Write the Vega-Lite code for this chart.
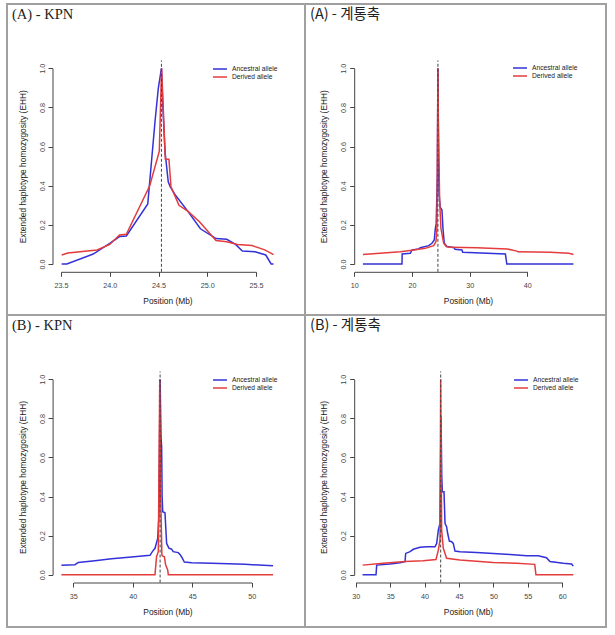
{
  "$schema": "https://vega.github.io/schema/vega-lite/v6.json",
  "background": "white",
  "padding": {"left": 6, "top": 3, "right": 0, "bottom": 0},
  "spacing": 0,
  "bounds": "flush",
  "columns": 2,
  "datasets": {
    "a_kpn": [
      {"allele": "Ancestral allele", "pos": 23.507, "ehh": 0},
      {"allele": "Ancestral allele", "pos": 23.56, "ehh": 0},
      {"allele": "Ancestral allele", "pos": 23.83, "ehh": 0.051},
      {"allele": "Ancestral allele", "pos": 24.0, "ehh": 0.106},
      {"allele": "Ancestral allele", "pos": 24.1, "ehh": 0.14},
      {"allele": "Ancestral allele", "pos": 24.17, "ehh": 0.143},
      {"allele": "Ancestral allele", "pos": 24.39, "ehh": 0.307},
      {"allele": "Ancestral allele", "pos": 24.464, "ehh": 0.727},
      {"allele": "Ancestral allele", "pos": 24.498, "ehh": 0.898},
      {"allele": "Ancestral allele", "pos": 24.53, "ehh": 1.0},
      {"allele": "Ancestral allele", "pos": 24.545, "ehh": 0.8},
      {"allele": "Ancestral allele", "pos": 24.567, "ehh": 0.574},
      {"allele": "Ancestral allele", "pos": 24.6, "ehh": 0.42},
      {"allele": "Ancestral allele", "pos": 24.62, "ehh": 0.395},
      {"allele": "Ancestral allele", "pos": 24.67, "ehh": 0.354},
      {"allele": "Ancestral allele", "pos": 24.8, "ehh": 0.27},
      {"allele": "Ancestral allele", "pos": 24.93, "ehh": 0.18},
      {"allele": "Ancestral allele", "pos": 25.09, "ehh": 0.13},
      {"allele": "Ancestral allele", "pos": 25.2, "ehh": 0.126},
      {"allele": "Ancestral allele", "pos": 25.29, "ehh": 0.1},
      {"allele": "Ancestral allele", "pos": 25.36, "ehh": 0.066},
      {"allele": "Ancestral allele", "pos": 25.49, "ehh": 0.063},
      {"allele": "Ancestral allele", "pos": 25.6, "ehh": 0.046},
      {"allele": "Ancestral allele", "pos": 25.655, "ehh": 0},
      {"allele": "Ancestral allele", "pos": 25.68, "ehh": 0},
      {"allele": "Derived allele", "pos": 23.507, "ehh": 0.046},
      {"allele": "Derived allele", "pos": 23.57, "ehh": 0.056},
      {"allele": "Derived allele", "pos": 23.87, "ehh": 0.072},
      {"allele": "Derived allele", "pos": 24.0, "ehh": 0.1},
      {"allele": "Derived allele", "pos": 24.1, "ehh": 0.148},
      {"allele": "Derived allele", "pos": 24.17, "ehh": 0.152},
      {"allele": "Derived allele", "pos": 24.41, "ehh": 0.4},
      {"allele": "Derived allele", "pos": 24.508, "ehh": 0.575},
      {"allele": "Derived allele", "pos": 24.532, "ehh": 1.0},
      {"allele": "Derived allele", "pos": 24.57, "ehh": 0.535},
      {"allele": "Derived allele", "pos": 24.607, "ehh": 0.535},
      {"allele": "Derived allele", "pos": 24.628, "ehh": 0.395},
      {"allele": "Derived allele", "pos": 24.71, "ehh": 0.3},
      {"allele": "Derived allele", "pos": 24.8, "ehh": 0.27},
      {"allele": "Derived allele", "pos": 24.92, "ehh": 0.216},
      {"allele": "Derived allele", "pos": 25.09, "ehh": 0.12},
      {"allele": "Derived allele", "pos": 25.2, "ehh": 0.114},
      {"allele": "Derived allele", "pos": 25.31, "ehh": 0.1},
      {"allele": "Derived allele", "pos": 25.46, "ehh": 0.094},
      {"allele": "Derived allele", "pos": 25.59, "ehh": 0.072},
      {"allele": "Derived allele", "pos": 25.68, "ehh": 0.048}
    ],
    "a_g": [
      {"allele": "Ancestral allele", "pos": 11.5, "ehh": 0},
      {"allele": "Ancestral allele", "pos": 18.27, "ehh": 0},
      {"allele": "Ancestral allele", "pos": 18.3, "ehh": 0.051},
      {"allele": "Ancestral allele", "pos": 19.71, "ehh": 0.055},
      {"allele": "Ancestral allele", "pos": 20.0, "ehh": 0.072},
      {"allele": "Ancestral allele", "pos": 21.16, "ehh": 0.077},
      {"allele": "Ancestral allele", "pos": 21.45, "ehh": 0.083},
      {"allele": "Ancestral allele", "pos": 22.9, "ehh": 0.094},
      {"allele": "Ancestral allele", "pos": 23.47, "ehh": 0.106},
      {"allele": "Ancestral allele", "pos": 23.87, "ehh": 0.123},
      {"allele": "Ancestral allele", "pos": 24.05, "ehh": 0.18},
      {"allele": "Ancestral allele", "pos": 24.2, "ehh": 0.205},
      {"allele": "Ancestral allele", "pos": 24.4, "ehh": 0.45},
      {"allele": "Ancestral allele", "pos": 24.5, "ehh": 1.0},
      {"allele": "Ancestral allele", "pos": 24.6, "ehh": 0.55},
      {"allele": "Ancestral allele", "pos": 24.7, "ehh": 0.36},
      {"allele": "Ancestral allele", "pos": 24.9, "ehh": 0.29},
      {"allele": "Ancestral allele", "pos": 25.2, "ehh": 0.276},
      {"allele": "Ancestral allele", "pos": 25.38, "ehh": 0.18},
      {"allele": "Ancestral allele", "pos": 25.6, "ehh": 0.106},
      {"allele": "Ancestral allele", "pos": 26.07, "ehh": 0.089},
      {"allele": "Ancestral allele", "pos": 27.34, "ehh": 0.083},
      {"allele": "Ancestral allele", "pos": 27.45, "ehh": 0.075},
      {"allele": "Ancestral allele", "pos": 28.67, "ehh": 0.072},
      {"allele": "Ancestral allele", "pos": 28.8, "ehh": 0.06},
      {"allele": "Ancestral allele", "pos": 36.2, "ehh": 0.051},
      {"allele": "Ancestral allele", "pos": 36.45, "ehh": 0},
      {"allele": "Ancestral allele", "pos": 48.0, "ehh": 0},
      {"allele": "Derived allele", "pos": 11.5, "ehh": 0.049},
      {"allele": "Derived allele", "pos": 17.98, "ehh": 0.063},
      {"allele": "Derived allele", "pos": 20.0, "ehh": 0.07},
      {"allele": "Derived allele", "pos": 22.3, "ehh": 0.08},
      {"allele": "Derived allele", "pos": 23.76, "ehh": 0.094},
      {"allele": "Derived allele", "pos": 24.16, "ehh": 0.114},
      {"allele": "Derived allele", "pos": 24.33, "ehh": 0.18},
      {"allele": "Derived allele", "pos": 24.45, "ehh": 0.73},
      {"allele": "Derived allele", "pos": 24.5, "ehh": 1.0},
      {"allele": "Derived allele", "pos": 24.58, "ehh": 0.73},
      {"allele": "Derived allele", "pos": 24.8, "ehh": 0.32},
      {"allele": "Derived allele", "pos": 25.03, "ehh": 0.18},
      {"allele": "Derived allele", "pos": 25.5, "ehh": 0.106},
      {"allele": "Derived allele", "pos": 25.95, "ehh": 0.089},
      {"allele": "Derived allele", "pos": 26.65, "ehh": 0.085},
      {"allele": "Derived allele", "pos": 31.27, "ehh": 0.083},
      {"allele": "Derived allele", "pos": 36.5, "ehh": 0.077},
      {"allele": "Derived allele", "pos": 38.2, "ehh": 0.066},
      {"allele": "Derived allele", "pos": 38.4, "ehh": 0.062},
      {"allele": "Derived allele", "pos": 44.0, "ehh": 0.06},
      {"allele": "Derived allele", "pos": 47.2, "ehh": 0.055},
      {"allele": "Derived allele", "pos": 48.0, "ehh": 0.049}
    ],
    "b_kpn": [
      {"allele": "Ancestral allele", "pos": 34.0, "ehh": 0.048},
      {"allele": "Ancestral allele", "pos": 35.14, "ehh": 0.051},
      {"allele": "Ancestral allele", "pos": 35.42, "ehh": 0.063},
      {"allele": "Ancestral allele", "pos": 36.82, "ehh": 0.072},
      {"allele": "Ancestral allele", "pos": 38.22, "ehh": 0.082},
      {"allele": "Ancestral allele", "pos": 39.9, "ehh": 0.09},
      {"allele": "Ancestral allele", "pos": 41.45, "ehh": 0.099},
      {"allele": "Ancestral allele", "pos": 41.65, "ehh": 0.118},
      {"allele": "Ancestral allele", "pos": 41.87, "ehh": 0.135},
      {"allele": "Ancestral allele", "pos": 42.1, "ehh": 0.186},
      {"allele": "Ancestral allele", "pos": 42.2, "ehh": 0.3},
      {"allele": "Ancestral allele", "pos": 42.3, "ehh": 1.0},
      {"allele": "Ancestral allele", "pos": 42.38, "ehh": 0.7},
      {"allele": "Ancestral allele", "pos": 42.43, "ehh": 0.655},
      {"allele": "Ancestral allele", "pos": 42.47, "ehh": 0.4},
      {"allele": "Ancestral allele", "pos": 42.52, "ehh": 0.322},
      {"allele": "Ancestral allele", "pos": 42.71, "ehh": 0.317},
      {"allele": "Ancestral allele", "pos": 42.85, "ehh": 0.16},
      {"allele": "Ancestral allele", "pos": 43.05, "ehh": 0.135},
      {"allele": "Ancestral allele", "pos": 43.27, "ehh": 0.131},
      {"allele": "Ancestral allele", "pos": 43.4, "ehh": 0.118},
      {"allele": "Ancestral allele", "pos": 43.83, "ehh": 0.113},
      {"allele": "Ancestral allele", "pos": 43.97, "ehh": 0.104},
      {"allele": "Ancestral allele", "pos": 44.1, "ehh": 0.092},
      {"allele": "Ancestral allele", "pos": 44.34, "ehh": 0.065},
      {"allele": "Ancestral allele", "pos": 44.96, "ehh": 0.061},
      {"allele": "Ancestral allele", "pos": 46.64, "ehh": 0.058},
      {"allele": "Ancestral allele", "pos": 49.44, "ehh": 0.053},
      {"allele": "Ancestral allele", "pos": 51.8, "ehh": 0.046},
      {"allele": "Derived allele", "pos": 34.0, "ehh": 0},
      {"allele": "Derived allele", "pos": 41.87, "ehh": 0},
      {"allele": "Derived allele", "pos": 42.0, "ehh": 0.092},
      {"allele": "Derived allele", "pos": 42.15, "ehh": 0.118},
      {"allele": "Derived allele", "pos": 42.27, "ehh": 1.0},
      {"allele": "Derived allele", "pos": 42.35, "ehh": 0.4},
      {"allele": "Derived allele", "pos": 42.45, "ehh": 0.1},
      {"allele": "Derived allele", "pos": 42.5, "ehh": 0.096},
      {"allele": "Derived allele", "pos": 42.66, "ehh": 0.092},
      {"allele": "Derived allele", "pos": 42.77, "ehh": 0.05},
      {"allele": "Derived allele", "pos": 42.94, "ehh": 0.024},
      {"allele": "Derived allele", "pos": 42.99, "ehh": 0},
      {"allele": "Derived allele", "pos": 51.8, "ehh": 0}
    ],
    "b_g": [
      {"allele": "Ancestral allele", "pos": 31.0, "ehh": 0},
      {"allele": "Ancestral allele", "pos": 32.95, "ehh": 0},
      {"allele": "Ancestral allele", "pos": 33.05, "ehh": 0.049},
      {"allele": "Ancestral allele", "pos": 34.98, "ehh": 0.055},
      {"allele": "Ancestral allele", "pos": 36.43, "ehh": 0.061},
      {"allele": "Ancestral allele", "pos": 37.16, "ehh": 0.067},
      {"allele": "Ancestral allele", "pos": 37.26, "ehh": 0.109},
      {"allele": "Ancestral allele", "pos": 37.89, "ehh": 0.118},
      {"allele": "Ancestral allele", "pos": 38.37, "ehh": 0.13},
      {"allele": "Ancestral allele", "pos": 39.34, "ehh": 0.14},
      {"allele": "Ancestral allele", "pos": 40.3, "ehh": 0.143},
      {"allele": "Ancestral allele", "pos": 41.51, "ehh": 0.143},
      {"allele": "Ancestral allele", "pos": 41.76, "ehh": 0.16},
      {"allele": "Ancestral allele", "pos": 42.0, "ehh": 0.229},
      {"allele": "Ancestral allele", "pos": 42.24, "ehh": 0.263},
      {"allele": "Ancestral allele", "pos": 42.39, "ehh": 0.81},
      {"allele": "Ancestral allele", "pos": 42.5, "ehh": 0.5},
      {"allele": "Ancestral allele", "pos": 42.58, "ehh": 0.425},
      {"allele": "Ancestral allele", "pos": 42.82, "ehh": 0.425},
      {"allele": "Ancestral allele", "pos": 42.97, "ehh": 0.263},
      {"allele": "Ancestral allele", "pos": 43.2, "ehh": 0.246},
      {"allele": "Ancestral allele", "pos": 43.35, "ehh": 0.212},
      {"allele": "Ancestral allele", "pos": 43.6, "ehh": 0.172},
      {"allele": "Ancestral allele", "pos": 43.93, "ehh": 0.169},
      {"allele": "Ancestral allele", "pos": 44.17, "ehh": 0.16},
      {"allele": "Ancestral allele", "pos": 44.42, "ehh": 0.121},
      {"allele": "Ancestral allele", "pos": 45.14, "ehh": 0.118},
      {"allele": "Ancestral allele", "pos": 47.56, "ehh": 0.113},
      {"allele": "Ancestral allele", "pos": 49.98, "ehh": 0.109},
      {"allele": "Ancestral allele", "pos": 52.4, "ehh": 0.104},
      {"allele": "Ancestral allele", "pos": 54.82, "ehh": 0.097},
      {"allele": "Ancestral allele", "pos": 56.5, "ehh": 0.097},
      {"allele": "Ancestral allele", "pos": 57.7, "ehh": 0.087},
      {"allele": "Ancestral allele", "pos": 58.2, "ehh": 0.067},
      {"allele": "Ancestral allele", "pos": 60.14, "ehh": 0.058},
      {"allele": "Ancestral allele", "pos": 61.35, "ehh": 0.055},
      {"allele": "Ancestral allele", "pos": 61.6, "ehh": 0.044},
      {"allele": "Derived allele", "pos": 31.0, "ehh": 0.049},
      {"allele": "Derived allele", "pos": 34.0, "ehh": 0.058},
      {"allele": "Derived allele", "pos": 37.16, "ehh": 0.067},
      {"allele": "Derived allele", "pos": 39.8, "ehh": 0.072},
      {"allele": "Derived allele", "pos": 41.66, "ehh": 0.078},
      {"allele": "Derived allele", "pos": 42.0, "ehh": 0.126},
      {"allele": "Derived allele", "pos": 42.24, "ehh": 0.177},
      {"allele": "Derived allele", "pos": 42.34, "ehh": 1.0},
      {"allele": "Derived allele", "pos": 42.48, "ehh": 0.229},
      {"allele": "Derived allele", "pos": 42.72, "ehh": 0.135},
      {"allele": "Derived allele", "pos": 43.2, "ehh": 0.084},
      {"allele": "Derived allele", "pos": 45.14, "ehh": 0.075},
      {"allele": "Derived allele", "pos": 49.98, "ehh": 0.063},
      {"allele": "Derived allele", "pos": 53.37, "ehh": 0.058},
      {"allele": "Derived allele", "pos": 56.0, "ehh": 0.053},
      {"allele": "Derived allele", "pos": 56.17, "ehh": 0},
      {"allele": "Derived allele", "pos": 61.6, "ehh": 0}
    ]
  },
  "concat": [
    {
      "width": 298, "height": 311,
      "title": {"text": "(A) - KPN", "font": "Liberation Serif"},
      "layer": [
        {
          "data": {"name": "a_kpn"},
          "mark": {"type": "line", "strokeWidth": 1.5},
          "encoding": {
            "x": {"field": "pos", "type": "quantitative", "scale": {"domain": [23.5, 25.5], "range": [54, 249], "nice": false, "zero": false},
                  "axis": {"values": [23.5, 24, 24.5, 25, 25.5], "format": ".1f", "offset": -43.2, "title": "Position (Mb)", "titleX": 160.5}},
            "y": {"field": "ehh", "type": "quantitative", "scale": {"domain": [0, 1], "range": [260, 64.3], "nice": false, "zero": false},
                  "axis": {"values": [0, 0.2, 0.4, 0.6, 0.8, 1], "format": ".1f", "offset": -45.5, "title": "Extended haplotype homozygosity (EHH)", "titleY": 162.2}},
            "color": {"field": "allele", "type": "nominal", "scale": {"domain": ["Ancestral allele", "Derived allele"], "range": ["#3232d8", "#e43c3c"]},
                      "legend": {"title": null, "legendX": 209, "legendY": 61}}
          }
        },
        {
          "data": {"values": [{}]},
          "mark": {"type": "rule", "color": "#444", "strokeDash": [3, 2], "strokeWidth": 1},
          "encoding": {"x": {"datum": 24.53, "type": "quantitative"}, "y": {"datum": -0.04, "type": "quantitative"}, "y2": {"datum": 1.04}}
        }
      ]
    },
    {
      "width": 301, "height": 311,
      "title": {"text": "(A) - 계통축", "font": "Noto Sans CJK KR"},
      "layer": [
        {
          "data": {"name": "a_g"},
          "mark": {"type": "line", "strokeWidth": 1.5},
          "encoding": {
            "x": {"field": "pos", "type": "quantitative", "scale": {"domain": [10, 40], "range": [49.3, 222.3], "nice": false, "zero": false},
                  "axis": {"values": [10, 20, 30, 40], "format": "d", "offset": -43.2, "title": "Position (Mb)", "titleX": 163}},
            "y": {"field": "ehh", "type": "quantitative", "scale": {"domain": [0, 1], "range": [260, 64.3], "nice": false, "zero": false},
                  "axis": {"values": [0, 0.2, 0.4, 0.6, 0.8, 1], "format": ".1f", "offset": -49.2, "title": "Extended haplotype homozygosity (EHH)", "titleY": 162.2}},
            "color": {"field": "allele", "type": "nominal", "scale": {"domain": ["Ancestral allele", "Derived allele"], "range": ["#3232d8", "#e43c3c"]},
                      "legend": {"title": null, "legendX": 211, "legendY": 60}}
          }
        },
        {
          "data": {"values": [{}]},
          "mark": {"type": "rule", "color": "#444", "strokeDash": [3, 2], "strokeWidth": 1},
          "encoding": {"x": {"datum": 24.5, "type": "quantitative"}, "y": {"datum": -0.04, "type": "quantitative"}, "y2": {"datum": 1.04}}
        }
      ]
    },
    {
      "width": 298, "height": 312,
      "title": {"text": "(B) - KPN", "font": "Liberation Serif"},
      "layer": [
        {
          "data": {"name": "b_kpn"},
          "mark": {"type": "line", "strokeWidth": 1.5},
          "encoding": {
            "x": {"field": "pos", "type": "quantitative", "scale": {"domain": [35, 50], "range": [66.3, 244.65], "nice": false, "zero": false},
                  "axis": {"values": [35, 40, 45, 50], "format": "d", "offset": -44.5, "title": "Position (Mb)", "titleX": 160.5}},
            "y": {"field": "ehh", "type": "quantitative", "scale": {"domain": [0, 1], "range": [259.7, 64.3], "nice": false, "zero": false},
                  "axis": {"values": [0, 0.2, 0.4, 0.6, 0.8, 1], "format": ".1f", "offset": -45.6, "title": "Extended haplotype homozygosity (EHH)", "titleY": 162}},
            "color": {"field": "allele", "type": "nominal", "scale": {"domain": ["Ancestral allele", "Derived allele"], "range": ["#3232d8", "#e43c3c"]},
                      "legend": {"title": null, "legendX": 209, "legendY": 61}}
          }
        },
        {
          "data": {"values": [{}]},
          "mark": {"type": "rule", "color": "#444", "strokeDash": [3, 2], "strokeWidth": 1},
          "encoding": {"x": {"datum": 42.3, "type": "quantitative"}, "y": {"datum": -0.04, "type": "quantitative"}, "y2": {"datum": 1.04}}
        }
      ]
    },
    {
      "width": 301, "height": 312,
      "title": {"text": "(B) - 계통축", "font": "Noto Sans CJK KR"},
      "layer": [
        {
          "data": {"name": "b_g"},
          "mark": {"type": "line", "strokeWidth": 1.5},
          "encoding": {
            "x": {"field": "pos", "type": "quantitative", "scale": {"domain": [30, 60], "range": [50.7, 257.3], "nice": false, "zero": false},
                  "axis": {"values": [30, 35, 40, 45, 50, 55, 60], "format": "d", "offset": -44.5, "title": "Position (Mb)", "titleX": 163}},
            "y": {"field": "ehh", "type": "quantitative", "scale": {"domain": [0, 1], "range": [259.7, 64.3], "nice": false, "zero": false},
                  "axis": {"values": [0, 0.2, 0.4, 0.6, 0.8, 1], "format": ".1f", "offset": -49.2, "title": "Extended haplotype homozygosity (EHH)", "titleY": 162}},
            "color": {"field": "allele", "type": "nominal", "scale": {"domain": ["Ancestral allele", "Derived allele"], "range": ["#3232d8", "#e43c3c"]},
                      "legend": {"title": null, "legendX": 212, "legendY": 61}}
          }
        },
        {
          "data": {"values": [{}]},
          "mark": {"type": "rule", "color": "#444", "strokeDash": [3, 2], "strokeWidth": 1},
          "encoding": {"x": {"datum": 42.34, "type": "quantitative"}, "y": {"datum": -0.04, "type": "quantitative"}, "y2": {"datum": 1.04}}
        }
      ]
    }
  ],
  "resolve": {
    "scale": {"x": "independent", "y": "independent", "color": "independent"},
    "legend": {"color": "independent"},
    "axis": {"x": "independent", "y": "independent"}
  },
  "config": {
    "view": {"stroke": "#a0a0a0", "strokeWidth": 2},
    "title": {"anchor": "start", "frame": "group", "offset": -18, "dx": 5, "fontSize": 14.5, "fontWeight": "normal", "color": "#222"},
    "axis": {
      "domain": true, "domainColor": "#444", "domainWidth": 1, "grid": false, "tickSize": 4.5, "tickColor": "#444", "tickWidth": 1,
      "labelFlush": false,
      "labelFont": "Liberation Sans", "labelFontSize": 7.2, "labelColor": "#444",
      "titleFont": "Liberation Sans", "titleFontSize": 8.4, "titleFontWeight": "normal", "titleColor": "#222"
    },
    "axisX": {"labelPadding": 5, "titlePadding": 8},
    "axisY": {"labelAngle": -90, "labelAlign": "center", "labelBaseline": "bottom", "labelPadding": 2, "titlePadding": 11},
    "legend": {
      "orient": "none", "symbolType": "M-2.33,0H2.33", "symbolSize": 36, "symbolStrokeWidth": 1.5,
      "labelFont": "Liberation Sans", "labelFontSize": 6.7, "labelColor": "#222", "labelOffset": 8,
      "rowPadding": 0, "padding": 0
    }
  }
}
